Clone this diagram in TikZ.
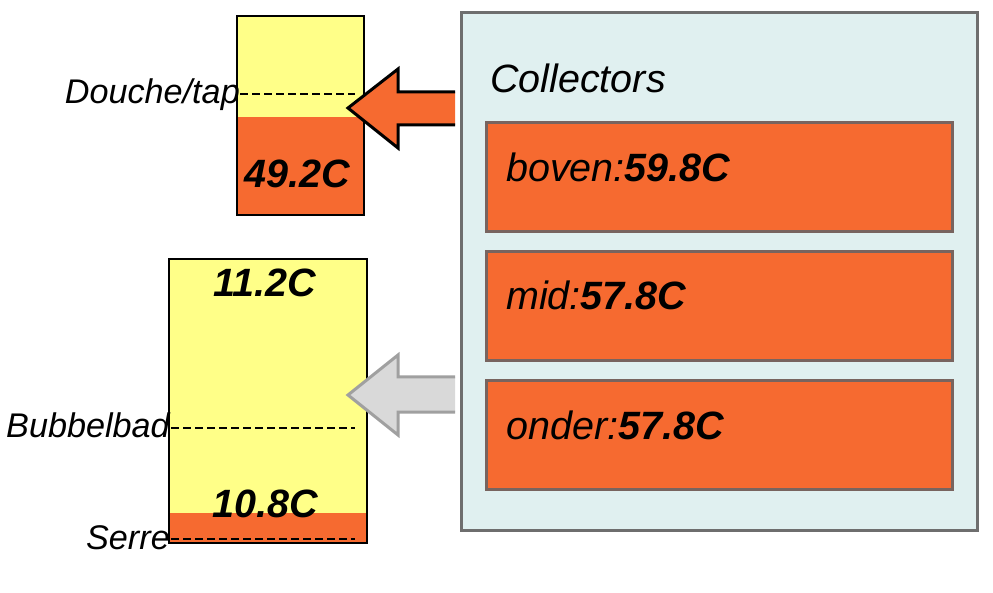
\documentclass[tikz,border=0pt]{standalone}
\usepackage{fontspec}
\setmainfont{Liberation Sans}
\definecolor{hot}{RGB}{246,106,48}
\definecolor{tyellow}{RGB}{255,255,136}
\definecolor{panelfill}{RGB}{224,240,240}
\definecolor{panelline}{RGB}{110,110,110}
\definecolor{boxline}{RGB}{120,100,95}
\definecolor{arrowgray}{RGB}{217,217,217}
\definecolor{arrowline}{RGB}{160,160,160}
\begin{document}
\begin{tikzpicture}[x=1pt,y=-1pt,
  lbl/.style={inner sep=0pt, font=\fontsize{34.2}{38}\selectfont\itshape},
  num/.style={inner sep=0pt, font=\fontsize{39.5}{42}\selectfont\bfseries\itshape},
  ctext/.style={inner sep=0pt, font=\fontsize{39.5}{42}\selectfont\itshape},
  tankline/.style={draw=black, line width=2.6pt, inner sep=0pt},
  cbox/.style={draw=boxline, fill=hot, line width=3pt, inner sep=0pt, minimum width=466pt, minimum height=109pt},
  level/.style={dash pattern=on 8pt off 4pt, line width=2pt}]
\useasboundingbox (0,0) rectangle (993,593);

% collectors panel
\node (panel) [draw=panelline, fill=panelfill, line width=3pt, inner sep=0pt,
  minimum width=516pt, minimum height=517pt] at (719,271.5) {};
\node (ctitle) [ctext, anchor=base west] at (490,93) {Collectors};
\node (boven) [cbox] at (719.5,177.5) {};
\node (mid) [cbox] at (719.5,306.5) {};
\node (onder) [cbox] at (719.5,435) {};
\node [ctext, anchor=base west] at (506,182) {boven:\textbf{59.8C}};
\node [ctext, anchor=base west] at (506,310) {mid:\textbf{57.8C}};
\node [ctext, anchor=base west] at (506,439) {onder:\textbf{57.8C}};

% top tank
\fill[tyellow] (237,16) rectangle (364,117);
\fill[hot] (237,117) rectangle (364,215);
\node (tank1) [tankline, minimum width=127pt, minimum height=199pt] at (300.5,115.5) {};
\coordinate (d1a) at (240,94);
\coordinate (d1b) at (355,94);
\draw[level] (d1a) -- (d1b);
\node (douche) [lbl, anchor=base east] at (240,104) {Douche/tap};
\node (t1val) [num, anchor=base] at (297,188) {49.2C};

% bottom tank
\fill[tyellow] (169,259) rectangle (367,513);
\fill[hot] (169,513) rectangle (367,543);
\node (tank2) [tankline, minimum width=198pt, minimum height=284pt] at (268,401) {};
\coordinate (d2a) at (171,428);
\coordinate (d2b) at (355,428);
\draw[level] (d2a) -- (d2b);
\coordinate (d3a) at (171,539);
\coordinate (d3b) at (355,539);
\draw[level] (d3a) -- (d3b);
\node (bubbel) [lbl, anchor=base east] at (170,437) {Bubbelbad};
\node (serre) [lbl, anchor=base east] at (170,549) {Serre};
\node (t2top) [num, anchor=base] at (265,297) {11.2C};
\node (t2bot) [num, anchor=base] at (265,517) {10.8C};

% block arrows
\draw[fill=hot, draw=black, line width=3pt, line join=miter]
  (455,92) -- (398,92) -- (398,69) -- (348,108) -- (398,148) -- (398,125) -- (455,125);
\draw[fill=arrowgray, draw=arrowline, line width=3pt, line join=miter]
  (455,377) -- (398,377) -- (398,355) -- (348,395) -- (398,435) -- (398,412) -- (455,412);
\end{tikzpicture}
\end{document}
